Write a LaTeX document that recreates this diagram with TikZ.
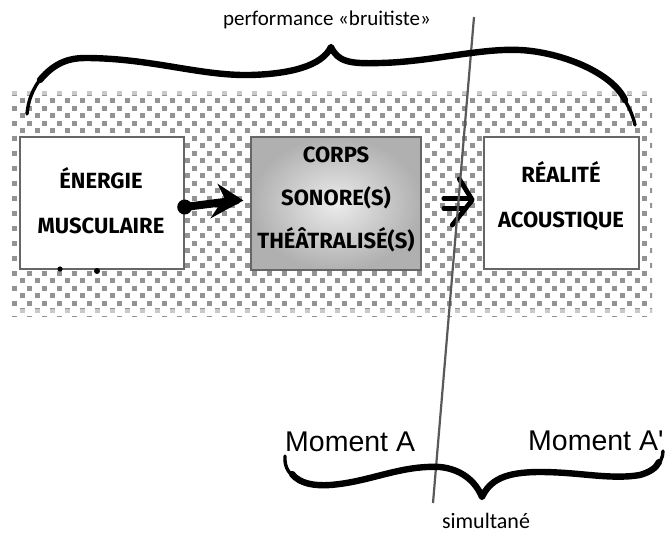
\documentclass[tikz,border=0pt]{standalone}
\usepackage{fontspec}
\setmainfont{Carlito}
\newfontfamily\arialf{Liberation Sans}
\newfontfamily\boxf{Fira Sans}[BoldFont={Fira Sans Bold}]
\begin{document}
\begin{tikzpicture}[x=1pt,y=-1pt,
  box/.style={draw=black!60,line width=1.4pt,fill=white,minimum width=164pt,minimum height=132pt,inner sep=0pt},
  lbl/.style={font=\boxf\bfseries\fontsize{22}{45}\selectfont,align=center,inner sep=0pt},
  brace/.style={line width=6.4pt,line cap=round,line join=round},
  bracetip/.style={line width=3.4pt,line cap=round},
  captxt/.style={font=\fontsize{21}{22}\selectfont,inner sep=0pt},
  moment/.style={font=\arialf\fontsize{28.5}{32}\selectfont,inner sep=0pt},
  fat/.style={line width=8pt,line cap=round,line join=round}]
\useasboundingbox (0,0) rectangle (672,538);
\fill[white] (0,0) rectangle (672,538);
% checkered band
\begin{scope}
\clip (11,89) rectangle (652,316);
\foreach \i in {0,...,30}{
  \pgfmathtruncatemacro\off{mod(\i,2)}
  \foreach \j in {0,...,43}{
    \fill[gray!85] (12+\off*7.5+\j*15, 90.5+\i*7.5) rectangle +(5.2,5.2);
  }
}
\end{scope}
\fill[white,opacity=0.5] (11,89) rectangle (652,95);
\fill[white,opacity=0.5] (11,309) rectangle (652,316);
% boxes
\node[box] (b1) at (102,203) {};
\node[box,minimum width=170pt,minimum height=133pt,shading=radial,inner color=gray!15,outer color=gray!62] (b2) at (336,203.5) {};
\node[box,minimum width=155pt] (b3) at (561.5,203) {};
\node[lbl] (t1) at (101,200.5) {ÉNERGIE\\MUSCULAIRE};
\node[lbl,font=\boxf\bfseries\fontsize{22}{43}\selectfont] (t2) at (336,199) {CORPS\\SONORE(S)\\THÉÂTRALISÉ(S)};
\node[lbl] (t3) at (561,196) {RÉALITÉ\\ACOUSTIQUE};
% small blobs under box 1
\fill (60,269) circle (2.6);
\fill (97,271) circle (3);
% arrow 1
\coordinate (a1s) at ([yshift=-4pt]b1.east);
\coordinate (a1e) at ([xshift=-14pt,yshift=3pt]b2.west);
\fill (a1s) circle (7.5);
\draw[fat] (a1s) -- (a1e);
\fill ([xshift=-7pt,yshift=3pt]b2.west) -- ++(-26,-17) -- ++(7,14) -- ++(-14,21) -- cycle;
% arrow 2 (triple)
\coordinate (a2s) at ([xshift=22pt,yshift=5pt]b2.east);
\coordinate (a2e) at ([xshift=-11pt,yshift=3pt]b3.west);
\draw[line width=4.5pt,line cap=round] (a2s) -- ++(25,0);
\draw[line width=4.5pt,line cap=round] ([yshift=-10pt]a2s) -- ++(22,0);
\draw[line width=4.8pt,line cap=round,line join=round] ([xshift=-13pt,yshift=21pt]a2e) -- (a2e) -- ([xshift=-20pt,yshift=-25pt]a2e);
% vertical line
\coordinate (vt) at (474,17);
\coordinate (vb) at (433,503);
\draw[line width=2.2pt,black!65] (vt) -- (vb);
% top brace
\draw[bracetip] (27,114) .. controls (30,80) and (55,58) .. (85,58);
\draw[brace] (40,80) .. controls (55,62) and (70,58) .. (85,58)
  .. controls (150,58) and (200,76) .. (250,75)
  .. controls (290,74) and (322,66) .. (331,47)
  .. controls (338,62) and (350,64) .. (380,63)
  .. controls (430,62) and (480,48) .. (520,50)
  .. controls (560,52) and (612,72) .. (625,100);
\draw[bracetip] (620,92) .. controls (628,105) and (633,115) .. (635,125);
% bottom brace
\draw[bracetip] (285,456) .. controls (284,468) and (290,476) .. (300,480);
\draw[brace] (292,474) .. controls (300,484) and (315,486) .. (330,485)
  .. controls (370,482) and (400,465) .. (440,467)
  .. controls (460,469) and (475,480) .. (482,497)
  .. controls (490,480) and (505,472) .. (540,472)
  .. controls (580,472) and (610,480) .. (640,475)
  .. controls (650,472) and (656,468) .. (659,462);
\draw[bracetip] (655,467) .. controls (660,463) and (663,458) .. (663,451);
% texts
\node[captxt] (perf) at (327,20) {performance «bruitiste»};
\node[moment,anchor=base west] (ma) at (285,451) {Moment A};
\node[moment,anchor=base west] (mb) at (528,450) {Moment A'};
\node[captxt,font=\fontsize{22}{24}\selectfont] (sim) at (486,521) {simultané};
\end{tikzpicture}
\end{document}
